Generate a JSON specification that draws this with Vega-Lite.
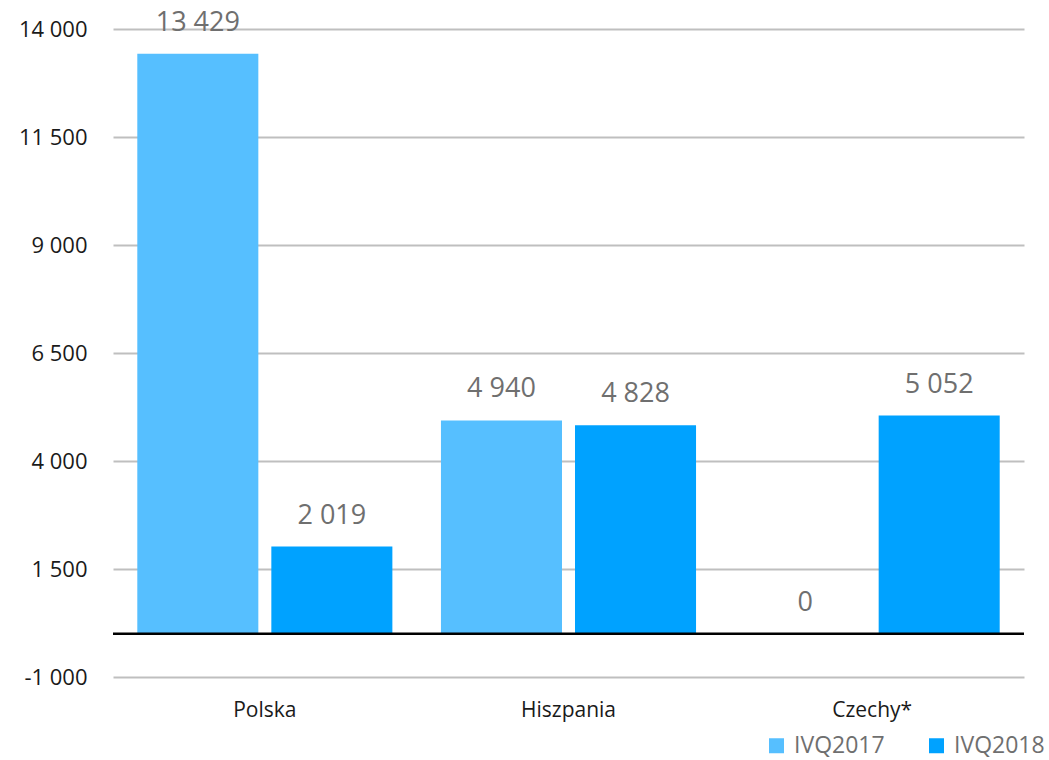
{
  "$schema": "https://vega.github.io/schema/vega-lite/v6.json",
  "width": 911,
  "height": 648,
  "autosize": {"type": "none"},
  "padding": {"left": 113, "top": 29, "right": 25, "bottom": 83},
  "background": "white",
  "config": {
    "view": {"stroke": null},
    "font": "Open Sans"
  },
  "data": {
    "values": [
      {"kraj": "Polska", "okres": "IVQ2017", "wartosc": 13429},
      {"kraj": "Polska", "okres": "IVQ2018", "wartosc": 2019},
      {"kraj": "Hiszpania", "okres": "IVQ2017", "wartosc": 4940},
      {"kraj": "Hiszpania", "okres": "IVQ2018", "wartosc": 4828},
      {"kraj": "Czechy*", "okres": "IVQ2017", "wartosc": 0},
      {"kraj": "Czechy*", "okres": "IVQ2018", "wartosc": 5052}
    ]
  },
  "layer": [
    {
      "mark": {"type": "bar"},
      "encoding": {
        "x": {
          "field": "kraj",
          "type": "nominal",
          "sort": ["Polska", "Hiszpania", "Czechy*"],
          "scale": {"paddingInner": 0.16, "paddingOuter": 0.08},
          "axis": {
            "title": null,
            "domain": false,
            "ticks": false,
            "labelAngle": 0,
            "labelFontSize": 21,
            "labelColor": "#1a1a1a",
            "labelPadding": 22,
            "grid": false
          }
        },
        "xOffset": {
          "field": "okres",
          "type": "nominal",
          "scale": {"paddingInner": 0.097}
        },
        "y": {
          "field": "wartosc",
          "type": "quantitative",
          "scale": {"domain": [-1000, 14000], "nice": false, "zero": false},
          "axis": {
            "title": null,
            "values": [-1000, 1500, 4000, 6500, 9000, 11500, 14000],
            "labelExpr": "replace(replace(format(datum.value, ',d'), ',', ' '), '−', '-')",
            "domain": false,
            "ticks": false,
            "grid": true,
            "gridColor": "#bfbfbf",
            "gridWidth": 2,
            "labelFontSize": 22,
            "labelColor": "#1a1a1a",
            "labelPadding": 26
          }
        },
        "color": {
          "field": "okres",
          "type": "nominal",
          "scale": {"domain": ["IVQ2017", "IVQ2018"], "range": ["#56BFFF", "#00A2FF"]},
          "legend": {
            "title": null,
            "orient": "none",
            "direction": "horizontal",
            "legendX": 652,
            "legendY": 705,
            "symbolType": "square",
            "symbolSize": 225,
            "symbolStrokeWidth": 0,
            "symbolOpacity": 1,
            "labelFontSize": 23,
            "labelColor": "#6f6f6f",
            "labelOffset": 6,
            "columnPadding": 40
          }
        }
      }
    },
    {
      "mark": {"type": "text", "baseline": "middle", "dy": -31, "fontSize": 27, "color": "#6f6f6f"},
      "transform": [
        {"calculate": "replace(format(datum.wartosc, ',d'), ',', ' ')", "as": "label"}
      ],
      "encoding": {
        "x": {"field": "kraj", "type": "nominal", "sort": ["Polska", "Hiszpania", "Czechy*"]},
        "xOffset": {"field": "okres", "type": "nominal"},
        "y": {"field": "wartosc", "type": "quantitative"},
        "text": {"field": "label"}
      }
    },
    {
      "data": {"values": [{"v": 0}]},
      "mark": {"type": "rule", "color": "#000000", "strokeWidth": 2.5},
      "encoding": {
        "y": {"field": "v", "type": "quantitative"},
        "x": {"value": 0},
        "x2": {"value": 911}
      }
    }
  ]
}
